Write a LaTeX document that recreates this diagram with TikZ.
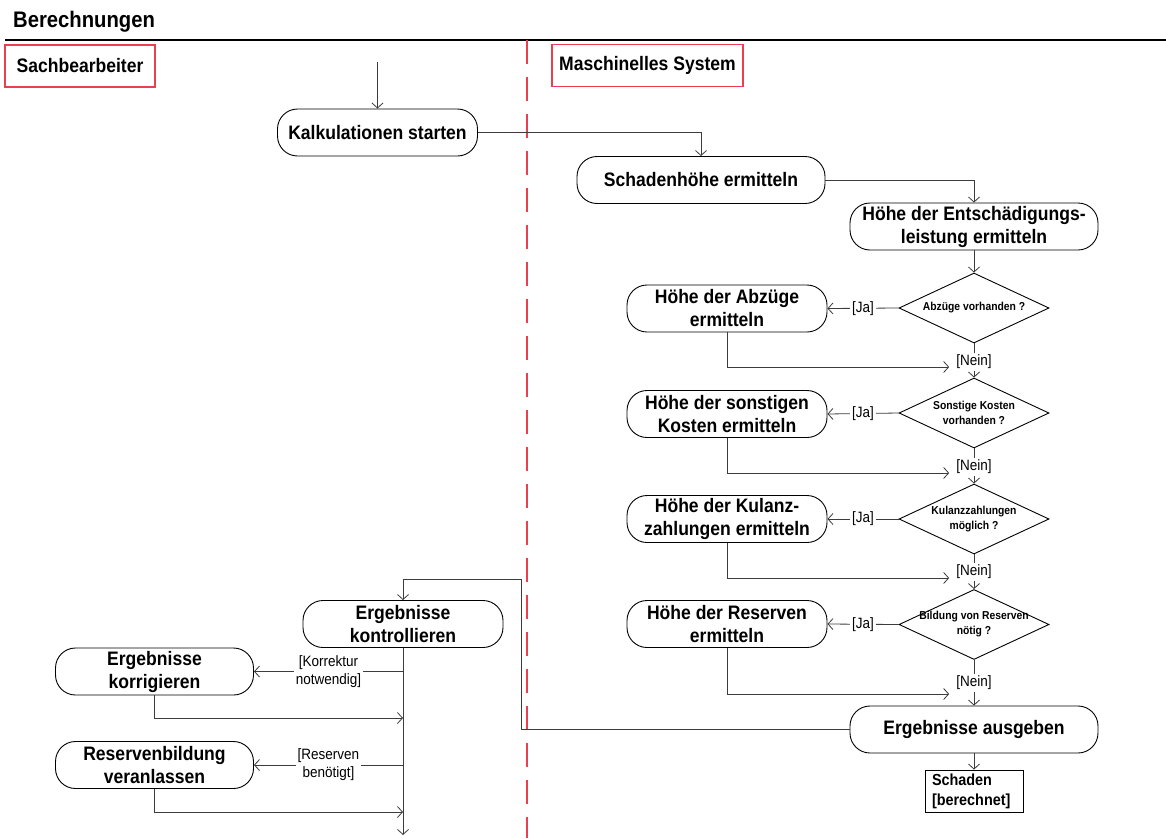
\documentclass[tikz,border=0pt]{standalone}
\usepackage{fontspec}
\setmainfont{Liberation Sans}[FakeStretch=0.9]
\usetikzlibrary{arrows.meta,shapes.geometric}

\definecolor{bahnrot}{RGB}{232,64,78}
\definecolor{linie}{RGB}{60,60,60}

\tikzset{
  aktion/.style={draw, line width=0.9pt, rounded corners=20pt, minimum height=47pt,
    inner sep=0pt, align=center, font=\bfseries\fontsize{19.5}{23}\selectfont},
  schmal/.style={aktion, minimum width=200pt},
  breit/.style={aktion, minimum width=248pt},
  raute/.style={draw, line width=0.9pt, diamond, minimum width=150pt,
    minimum height=70pt, inner sep=0pt},
  rautentext/.style={align=center, inner sep=0pt, font=\bfseries\fontsize{11.5}{15}\selectfont},
  bahn/.style={draw=bahnrot, line width=1.3pt, minimum height=42pt,
    font=\bfseries\fontsize{19.5}{23}\selectfont},
  waechter/.style={fill=white, inner sep=2pt, align=center, font=\fontsize{15}{18}\selectfont},
  fluss/.style={draw=linie, line width=0.8pt},
  pfeil/.style={fluss, -{Straight Barb[length=5pt,width=11pt]}},
}

\begin{document}
\begin{tikzpicture}[x=1pt,y=-1pt]
    \fill[white] (0,0) rectangle (1166,838);
    \useasboundingbox (0,0) rectangle (1166,838);

    % Titel und Bahnen
    \node[anchor=base west, inner sep=0pt, font=\bfseries\fontsize{22.5}{26}\selectfont] (titel) at (13,27) {Berechnungen};
    \draw[line width=1.2pt] (5,40) -- (1166,40);
    \draw[bahnrot, line width=1.2pt, dash pattern=on 24pt off 13pt] (527,40) -- (527,838);
    \node[bahn, minimum width=150pt] (sach) at (80,66) {Sachbearbeiter};
    \node[bahn, minimum width=191pt] (system) at (647.5,65.5) {Maschinelles System};

    % Aktionen
    \node[schmal] (kalk) at (377.5,132.5) {Kalkulationen starten};
    \node[breit] (schaden) at (701,180) {Schadenhöhe ermitteln};
    \node[breit] (entsch) at (974,226.5) {Höhe der Entschädigungs-\\leistung ermitteln};
    \node[schmal] (abzug) at (727,308.5) {Höhe der Abzüge\\ermitteln};
    \node[schmal] (sonst) at (727,414) {Höhe der sonstigen\\Kosten ermitteln};
    \node[schmal] (kulanz) at (727,519) {Höhe der Kulanz-\\zahlungen ermitteln};
    \node[schmal] (reserve) at (727,624) {Höhe der Reserven\\ermitteln};
    \node[breit] (ausgeben) at (974,729.5) {Ergebnisse ausgeben};
    \node[draw, line width=0.9pt, minimum width=98pt, minimum height=42pt, inner xsep=7pt,
      text width=84pt, align=left, font=\bfseries\fontsize{16}{20}\selectfont] (objekt) at (974,791) {Schaden\\{[berechnet]}};

    \node[schmal] (kontrolle) at (403,624) {Ergebnisse\\kontrollieren};
    \node[schmal, minimum width=198pt] (korrig) at (154.5,671.5) {Ergebnisse\\korrigieren};
    \node[schmal, minimum width=198pt] (resbild) at (154.5,765) {Reservenbildung\\veranlassen};

    % Entscheidungen
    \node[raute] (d1) at (974,308) {};
    \node[raute] (d2) at (974,413) {};
    \node[raute] (d3) at (974,519) {};
    \node[raute] (d4) at (974,624.5) {};
    \node[rautentext] (t1) at (d1) {Abzüge vorhanden ?};
    \node[rautentext] (t2) at (d2) {Sonstige Kosten\\vorhanden ?};
    \node[rautentext] (t3) at (d3) {Kulanzzahlungen\\möglich ?};
    \node[rautentext] (t4) at (d4) {Bildung von Reserven\\nötig ?};

    \node[waechter] (nein1) at (974,362) {[Nein]};
    \node[waechter] (nein2) at (974,467) {[Nein]};
    \node[waechter] (nein3) at (974,572) {[Nein]};
    \node[waechter] (nein4) at (974,683) {[Nein]};

    \coordinate (start) at (377.5,62);
    \coordinate (ende) at (403,835);
    \coordinate (knick) at (521,579);
    \coordinate (m1) at (403,718);
    \coordinate (m2) at (403,812);

    % Ablauf rechts
    \draw[pfeil] (start) -- (kalk);
    \draw[pfeil] (kalk.east) -| (schaden.north);
    \draw[pfeil] (schaden.east) -| (entsch.north);
    \draw[pfeil] (entsch) -- (d1);

    \draw[pfeil] (d1.west) -- node[waechter] (ja1) {[Ja]} (abzug.east);
    \draw[pfeil] (d2.west) -- node[waechter] (ja2) {[Ja]} (sonst.east);
    \draw[pfeil] (d3.west) -- node[waechter] (ja3) {[Ja]} (kulanz.east);
    \draw[pfeil] (d4.west) -- node[waechter] (ja4) {[Ja]} (reserve.east);

    \draw[fluss] (d1) -- (nein1);
    \draw[pfeil] (nein1) -- (d2);
    \draw[fluss] (d2) -- (nein2);
    \draw[pfeil] (nein2) -- (d3);
    \draw[fluss] (d3) -- (nein3);
    \draw[pfeil] (nein3) -- (d4);
    \draw[fluss] (d4) -- (nein4);
    \draw[pfeil] (nein4) -- (ausgeben);

    \draw[pfeil] (abzug.south) |- ([xshift=-5pt,yshift=-5pt]nein1.west);
    \draw[pfeil] (sonst.south) |- ([xshift=-5pt,yshift=-6pt]nein2.west);
    \draw[pfeil] (kulanz.south) |- ([xshift=-5pt,yshift=-6pt]nein3.west);
    \draw[pfeil] (reserve.south) |- ([xshift=-5pt,yshift=-11pt]nein4.west);

    \draw[pfeil] (ausgeben) -- (objekt);

    % Ablauf links
    \draw[pfeil] (ausgeben.west) -| (knick) -| (kontrolle.north);
    \draw[pfeil] (kontrolle) -- (ende);
    \draw[pfeil] (kontrolle.south |- korrig.east) -- node[waechter] (korr) {[Korrektur\\notwendig]} (korrig.east);
    \draw[pfeil] (kontrolle.south |- resbild.east) -- node[waechter] (resv) {[Reserven\\benötigt]} (resbild.east);
    \draw[pfeil] (korrig.south) |- (m1);
    \draw[pfeil] (resbild.south) |- (m2);
\end{tikzpicture}
\end{document}
